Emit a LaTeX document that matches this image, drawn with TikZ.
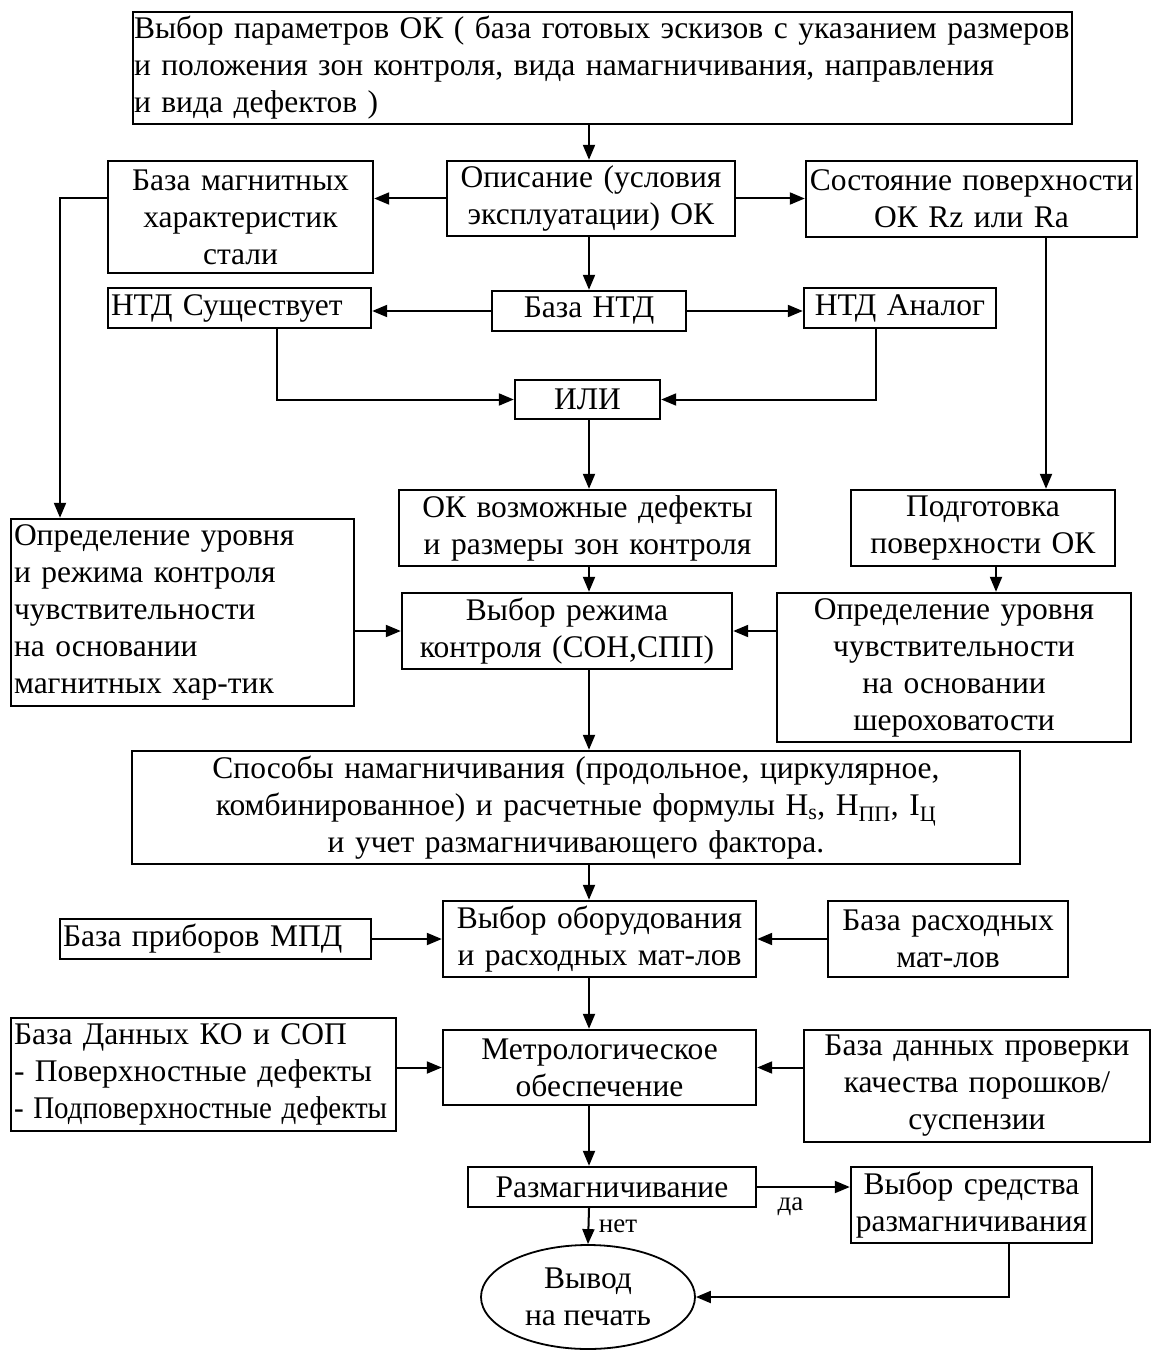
\documentclass[tikz,border=0pt]{standalone}
\usepackage{fontspec}
\usepackage{graphicx}
\setmainfont{Liberation Serif}
\usetikzlibrary{arrows.meta,shapes.geometric}

\begin{document}
\begin{tikzpicture}[x=1pt,y=-1pt,
    >={Triangle[length=15pt,width=12pt]},
    every node/.style={font=\fontsize{31.5}{37}\selectfont},
    box/.style={draw,line width=2.4pt,inner sep=3pt,align=center},
    lbox/.style={draw,line width=2.4pt,inner sep=3pt,align=left},
    arr/.style={->,line width=2pt},
    lbl/.style={font=\fontsize{27}{30}\selectfont}]
  \useasboundingbox (0,0) rectangle (1153,1351);
  \coordinate (spine) at (589,0);
  \coordinate (lft) at (60,0);
  \coordinate (rgt) at (1046,0);
  % blocks
  \node[lbox,inner xsep=1pt,text width=937pt,minimum height=112pt] (par) at (602.5,68)
    {Выбор параметров ОК ( база готовых эскизов с указанием размеров\\
     и положения зон контроля, вида намагничивания, направления\\
     и вида дефектов )};
  \node[box,text width=282pt,minimum height=75pt] (opis) at (591,198.5) {Описание (условия\\эксплуатации) ОК};
  \node[box,text width=259pt,minimum height=112pt] (bazamag) at (240.5,217) {База магнитных\\характеристик\\стали};
  \node[box,text width=325pt,minimum height=76pt] (sost) at (971.5,199) {Состояние поверхности\\ОК Rz или Ra};
  \node[box,text width=188pt,minimum height=40pt] (bazantd) at (589,311) {База НТД};
  \node[lbox,text width=257pt,minimum height=40pt] (ntdsush) at (239.5,308) {НТД Существует};
  \node[box,text width=186pt,minimum height=40pt] (ntdan) at (900,308) {НТД Аналог};
  \node[box,text width=139pt,minimum height=39pt] (ili) at (587.5,399.5) {ИЛИ};
  \node[box,text width=371pt,minimum height=76pt] (okdef) at (587.5,528) {ОК возможные дефекты\\и размеры зон контроля};
  \node[box,text width=258pt,minimum height=76pt] (podg) at (983,528) {Подготовка\\поверхности ОК};
  \node[lbox,text width=337pt,minimum height=187pt] (oprL) at (182.5,612.5)
    {Определение уровня\\и режима контроля\\чувствительности\\на основании\\магнитных хар-тик};
  \node[box,text width=324pt,minimum height=76pt] (rezhim) at (567,631) {Выбор режима\\контроля (СОН,СПП)};
  \node[box,text width=348pt,minimum height=149pt] (oprR) at (954,667.5)
    {Определение уровня\\чувствительности\\на основании\\шероховатости};
  \node[box,text width=882pt,minimum height=113pt] (sposob) at (576,807.5)
    {Способы намагничивания (продольное, циркулярное,\\
     комбинированное) и расчетные формулы H\textsubscript{s}, H\textsubscript{ПП}, I\textsubscript{Ц}\\
     и учет размагничивающего фактора.};
  \node[box,text width=307pt,minimum height=76pt] (oborud) at (599.5,939) {Выбор оборудования\\и расходных мат-лов};
  \node[lbox,text width=305pt,minimum height=40pt] (pribor) at (215.5,939) {База приборов МПД};
  \node[box,text width=234pt,minimum height=76pt] (rashod) at (948,939) {База расходных\\мат-лов};
  \node[box,text width=307pt,minimum height=75pt] (metro) at (599.5,1067.5) {Метрологическое\\обеспечение};
  \node[lbox,text width=379pt,minimum height=113pt] (bdko) at (203.5,1074.5)
    {База Данных КО и СОП\\- Поверхностные дефекты\\\scalebox{0.92}[1]{- Подповерхностные дефекты}};
  \node[box,text width=340pt,minimum height=112pt] (bdprov) at (977,1086) {База данных проверки\\качества порошков/\\суспензии};
  \node[box,text width=282pt,minimum height=40pt] (razm) at (612,1187) {Размагничивание};
  \node[box,text width=235pt,minimum height=76pt] (vybsr) at (971.5,1205) {Выбор средства\\размагничивания};
  \node[draw,ellipse,line width=1.8pt,inner sep=0pt,align=center,minimum width=214pt,minimum height=104pt]
    (vyvod) at (588,1297) {Вывод\\на печать};
  % connectors
  \draw[arr] (par.south -| spine) -- (opis.north -| spine);
  \draw[arr] (opis.west) -- (bazamag.east |- opis.west);
  \draw[arr] (opis.east) -- (sost.west |- opis.east);
  \draw[arr] (bazamag.west |- opis.west) -| (oprL.north -| lft);
  \draw[arr] (sost.south -| rgt) -- (podg.north -| rgt);
  \draw[arr] (opis.south -| spine) -- (bazantd.north -| spine);
  \draw[arr] (bazantd.west) -- (ntdsush.east |- bazantd.west);
  \draw[arr] (bazantd.east) -- (ntdan.west |- bazantd.east);
  \draw[arr] ([xshift=37pt]ntdsush.south) |- (ili.west);
  \draw[arr] ([xshift=-24pt]ntdan.south) |- (ili.east);
  \draw[arr] (ili.south -| spine) -- (okdef.north -| spine);
  \draw[arr] (okdef.south -| spine) -- (rezhim.north -| spine);
  \draw[arr] ([xshift=13pt]podg.south) -- ([xshift=13pt]podg.south |- oprR.north);
  \draw[arr] (oprL.east |- rezhim.west) -- (rezhim.west);
  \draw[arr] (oprR.west |- rezhim.east) -- (rezhim.east);
  \draw[arr] (rezhim.south -| spine) -- (sposob.north -| spine);
  \draw[arr] (sposob.south -| spine) -- (oborud.north -| spine);
  \draw[arr] (pribor.east) -- (oborud.west |- pribor.east);
  \draw[arr] (rashod.west) -- (oborud.east |- rashod.west);
  \draw[arr] (oborud.south -| spine) -- (metro.north -| spine);
  \draw[arr] (bdko.east |- metro.west) -- (metro.west);
  \draw[arr] (bdprov.west |- metro.east) -- (metro.east);
  \draw[arr] (metro.south -| spine) -- (razm.north -| spine);
  \draw[arr] (razm.east) -- (vybsr.west |- razm.east) node[lbl,pos=0.36,below=6pt] {да};
  \draw[arr] (razm.south -| spine) -- (vyvod.north) node[lbl,midway,right=6pt] {нет};
  \draw[arr] ([xshift=37pt]vybsr.south) |- (vyvod.east);
\end{tikzpicture}
\end{document}
